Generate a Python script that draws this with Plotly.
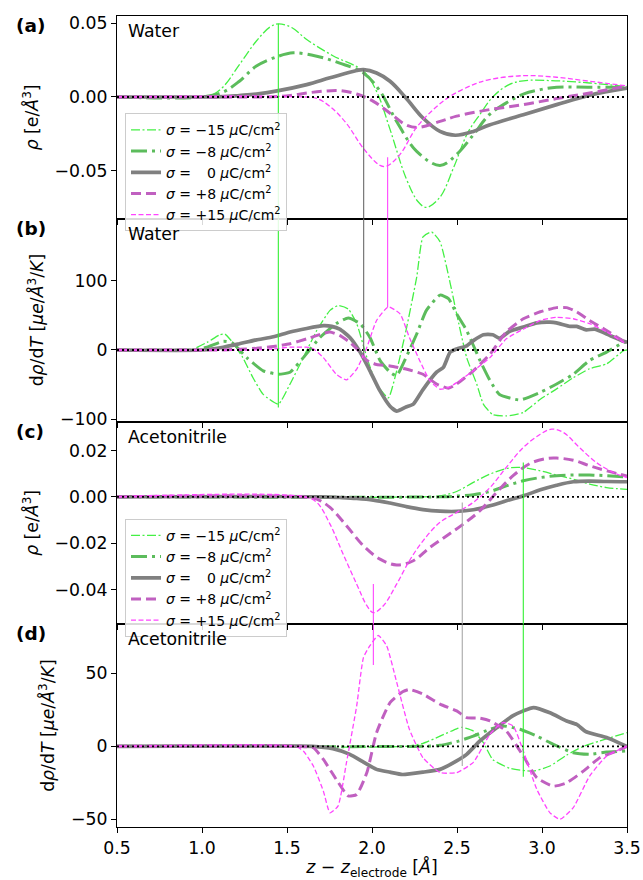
import plotly.graph_objects as go
from plotly.subplots import make_subplots

# ---------------- data ----------------
labels = ["<i>σ</i> = −15 <i>μ</i>C/cm<sup>2</sup>",
          "<i>σ</i> = −8 <i>μ</i>C/cm<sup>2</sup>",
          "<i>σ</i> = \u2002 0 <i>μ</i>C/cm<sup>2</sup>",
          "<i>σ</i> = +8 <i>μ</i>C/cm<sup>2</sup>",
          "<i>σ</i> = +15 <i>μ</i>C/cm<sup>2</sup>"]

# Panel (a): water, rho
a_m15_z = [0.5, 0.95, 1.05, 1.125, 1.22, 1.32, 1.40, 1.449, 1.53, 1.616, 1.77, 1.95, 2.03, 2.106, 2.20, 2.27, 2.32, 2.40, 2.48, 2.56, 2.64, 2.71, 2.80, 2.89, 3.08, 3.28, 3.5]
a_m15_v = [0, 0, 0.001, 0.007, 0.022, 0.038, 0.0475, 0.0497, 0.047, 0.039, 0.028, 0.0175, 0.003, -0.022, -0.055, -0.071, -0.075, -0.068, -0.048, -0.025, -0.011, 0.0, 0.008, 0.011, 0.011, 0.0095, 0.007]
a_m8_z = [0.5, 1.0, 1.125, 1.22, 1.32, 1.45, 1.537, 1.675, 1.81, 1.95, 2.047, 2.145, 2.263, 2.40, 2.498, 2.596, 2.69, 2.79, 2.89, 2.99, 3.086, 3.28, 3.5]
a_m8_v = [0, 0, 0.0034, 0.0107, 0.021, 0.0277, 0.030, 0.0277, 0.023, 0.0163, 0.004, -0.0166, -0.037, -0.0465, -0.039, -0.0257, -0.012, -0.004, 0.002, 0.005, 0.0066, 0.0066, 0.0066]
a_0_z = [0.5, 1.0, 1.125, 1.22, 1.32, 1.45, 1.616, 1.753, 1.91, 1.95, 2.027, 2.106, 2.20, 2.30, 2.40, 2.49, 2.596, 2.69, 2.89, 3.086, 3.28, 3.5]
a_0_v = [0, 0, 0.0002, 0.001, 0.002, 0.0043, 0.0084, 0.013, 0.018, 0.0186, 0.0163, 0.0107, -0.0007, -0.0143, -0.0234, -0.026, -0.0234, -0.019, -0.012, -0.0052, 0.0012, 0.006]
a_p8_z = [0.5, 1.3, 1.42, 1.52, 1.616, 1.714, 1.81, 1.91, 2.008, 2.106, 2.20, 2.27, 2.40, 2.498, 2.69, 2.89, 3.086, 3.28, 3.5]
a_p8_v = [0, 0, 0.0002, 0.001, 0.0027, 0.0039, 0.0043, 0.002, -0.003, -0.011, -0.019, -0.0207, -0.0166, -0.013, -0.0086, -0.0052, -0.0011, 0.0027, 0.0075]
a_p15_z = [0.5, 1.6, 1.675, 1.753, 1.85, 1.95, 2.047, 2.086, 2.165, 2.26, 2.36, 2.46, 2.596, 2.69, 2.89, 3.086, 3.28, 3.5]
a_p15_v = [0, 0, -0.001, -0.0064, -0.018, -0.035, -0.0465, -0.047, -0.039, -0.021, -0.0086, 0.0005, 0.0084, 0.0118, 0.0145, 0.0134, 0.0107, 0.0075]

# Panel (b): water, d rho / dT
b_m15_z = [0.5, 0.93, 1.03, 1.106, 1.135, 1.18, 1.24, 1.30, 1.36, 1.449, 1.518, 1.596, 1.675, 1.753, 1.80, 1.86, 1.91, 1.97, 2.027, 2.096, 2.145, 2.20, 2.263, 2.30, 2.35, 2.40, 2.46, 2.498, 2.557, 2.616, 2.655, 2.71, 2.79, 2.89, 2.99, 3.086, 3.184, 3.28, 3.38, 3.48, 3.5]
b_m15_v = [0, 0, 11, 22, 23, 11, -11, -40, -64, -78, -49, -11, 28, 57, 64, 59, 38, -11, -49, -69, -30, 28, 105, 163, 170, 156, 96, 52, -11, -49, -78, -93, -95, -90, -71, -56, -40, -27, -20, -1, 0]
b_m8_z = [0.5, 0.95, 1.03, 1.125, 1.18, 1.263, 1.36, 1.45, 1.518, 1.596, 1.694, 1.79, 1.86, 1.93, 1.988, 2.047, 2.106, 2.145, 2.20, 2.263, 2.32, 2.40, 2.45, 2.498, 2.557, 2.635, 2.694, 2.75, 2.87, 2.99, 3.086, 3.184, 3.28, 3.38, 3.48, 3.5]
b_m8_v = [0, 0, 4, 12.5, 10, -11, -30, -35, -32, -11, 18, 38, 46, 38, 18, -15, -32, -37, -11, 23, 57, 79, 74, 52, 28, -15, -44, -64, -72, -61, -49, -35, -15, -3, 11, 12]
b_0_z = [0.5, 1.0, 1.125, 1.22, 1.32, 1.42, 1.518, 1.616, 1.714, 1.763, 1.81, 1.87, 1.93, 1.988, 2.047, 2.106, 2.145, 2.20, 2.243, 2.30, 2.38, 2.42, 2.46, 2.498, 2.557, 2.596, 2.655, 2.71, 2.75, 2.81, 2.89, 2.97, 3.047, 3.086, 3.165, 3.204, 3.26, 3.31, 3.38, 3.48, 3.5]
b_0_v = [0, 0, 4, 9, 14.5, 19, 26, 31, 35, 34, 30, 18, -3, -30, -59, -81, -88, -82, -78, -57, -32, -25, -3, 1.5, 6, 13.5, 22, 22, 17, 27, 33, 39, 40, 39, 34, 34, 29, 30, 23, 12.5, 11]
b_p8_z = [0.5, 1.1, 1.22, 1.32, 1.42, 1.518, 1.616, 1.714, 1.753, 1.81, 1.87, 1.93, 1.97, 2.027, 2.106, 2.20, 2.30, 2.38, 2.45, 2.498, 2.596, 2.694, 2.79, 2.89, 2.99, 3.086, 3.145, 3.204, 3.28, 3.38, 3.48, 3.5]
b_p8_v = [0, 0, 1, 2.4, 5, 9, 16, 24, 26, 21, 11, -3, -15, -21, -23, -27.5, -35, -49, -55, -49, -30, -6, 26, 45, 55, 61, 61, 55, 42.5, 28, 12.5, 11]
b_p15_z = [0.5, 1.3, 1.42, 1.518, 1.616, 1.655, 1.714, 1.79, 1.85, 1.91, 1.97, 2.027, 2.096, 2.165, 2.22, 2.28, 2.34, 2.40, 2.45, 2.498, 2.596, 2.694, 2.79, 2.89, 2.99, 3.086, 3.184, 3.28, 3.38, 3.48, 3.5]
b_p15_v = [0, 0, 1.5, 4, 4, 1.5, -11, -35, -43, -27.5, 4, 42.5, 62, 52, 18, -15, -44, -56.5, -54, -47, -30, -11, 16, 30, 42.5, 47, 45, 38, 26, 11, 10]

# Panel (c): acetonitrile, rho
c_m15_z = [0.5, 2.3, 2.40, 2.498, 2.596, 2.694, 2.79, 2.87, 2.99, 3.086, 3.184, 3.28, 3.38, 3.5]
c_m15_v = [0, 0, 0.0004, 0.0023, 0.0062, 0.0098, 0.0122, 0.0127, 0.0112, 0.0094, 0.0076, 0.0055, 0.004, 0.0032]
c_m8_z = [0.5, 2.4, 2.498, 2.596, 2.694, 2.79, 2.89, 2.99, 3.086, 3.184, 3.28, 3.38, 3.5]
c_m8_v = [0, 0, 0.0003, 0.0009, 0.0023, 0.0047, 0.0069, 0.0083, 0.0091, 0.0094, 0.0094, 0.0091, 0.0086]
c_0_z = [0.5, 1.7, 1.81, 1.91, 2.008, 2.106, 2.20, 2.30, 2.40, 2.498, 2.596, 2.694, 2.79, 2.89, 2.99, 3.086, 3.184, 3.28, 3.38, 3.5]
c_0_v = [0, 0, -0.0003, -0.0007, -0.0014, -0.0027, -0.0042, -0.0055, -0.0062, -0.0063, -0.0056, -0.0039, -0.0017, 0.0004, 0.003, 0.005, 0.0065, 0.0068, 0.0066, 0.0065]
c_p8_z = [0.5, 1.58, 1.675, 1.753, 1.85, 1.95, 2.047, 2.145, 2.243, 2.34, 2.44, 2.537, 2.635, 2.733, 2.83, 2.93, 3.027, 3.086, 3.184, 3.28, 3.38, 3.5]
c_p8_v = [0, 0, -0.001, -0.0046, -0.0125, -0.0212, -0.0269, -0.0294, -0.0276, -0.0219, -0.0168, -0.0118, -0.006, 0.0019, 0.0091, 0.0144, 0.0165, 0.0167, 0.0158, 0.0134, 0.0112, 0.009]
c_p15_z = [0.5, 1.6, 1.675, 1.753, 1.83, 1.91, 1.97, 2.008, 2.067, 2.145, 2.22, 2.30, 2.40, 2.498, 2.596, 2.694, 2.79, 2.89, 2.99, 3.057, 3.125, 3.22, 3.32, 3.42, 3.5]
c_p15_v = [0, 0, -0.0024, -0.0118, -0.0247, -0.0377, -0.047, -0.050, -0.047, -0.0377, -0.0276, -0.019, -0.011, -0.0068, -0.0024, 0.004, 0.0127, 0.0213, 0.027, 0.0292, 0.0278, 0.0213, 0.0148, 0.0105, 0.0083]

# Panel (d): acetonitrile, d rho / dT
d_m15_z = [0.5, 2.2, 2.30, 2.40, 2.498, 2.53, 2.596, 2.655, 2.71, 2.81, 2.95, 3.047, 3.145, 3.243, 3.34, 3.5]
d_m15_v = [0, 0, 2, 7, 12, 13, 10.5, 2.5, -9, -15, -17, -13.5, -6, 0, 3.7, 9.4]
d_m8_z = [0.5, 2.3, 2.40, 2.498, 2.596, 2.694, 2.77, 2.87, 2.97, 3.067, 3.184, 3.28, 3.38, 3.5]
d_m8_v = [0, 0, 0.7, 3.2, 7, 11.7, 14, 11.7, 7, 1.4, -4.4, -5.5, -3.9, -3.2]
d_0_z = [0.5, 1.65, 1.77, 1.87, 1.95, 2.027, 2.106, 2.18, 2.30, 2.40, 2.498, 2.557, 2.635, 2.733, 2.83, 2.89, 2.95, 3.047, 3.145, 3.204, 3.26, 3.38, 3.5]
d_0_v = [0, 0, -1.6, -5.5, -10.8, -15.8, -17.7, -19.3, -17.7, -15.8, -10, -5.5, 3.7, 12.8, 21, 24.3, 26.6, 23, 17.4, 15, 10, 6, -0.2]
d_p8_z = [0.5, 1.58, 1.655, 1.714, 1.79, 1.86, 1.91, 1.97, 2.027, 2.106, 2.18, 2.22, 2.30, 2.40, 2.498, 2.557, 2.635, 2.694, 2.79, 2.89, 2.97, 3.067, 3.145, 3.243, 3.34, 3.44, 3.5]
d_p8_v = [0, 0, -1, -9, -22.7, -34, -33, -18, 9.4, 30, 37.4, 39, 35.8, 29, 24.3, 19.7, 19.3, 17.4, 10.5, -6.7, -21.6, -27.3, -25, -17, -7.8, -3.2, 0]
d_p15_z = [0.5, 1.55, 1.596, 1.655, 1.714, 1.753, 1.80, 1.85, 1.91, 1.95, 1.988, 2.037, 2.086, 2.145, 2.22, 2.30, 2.40, 2.498, 2.596, 2.694, 2.77, 2.83, 2.89, 2.97, 3.047, 3.106, 3.184, 3.28, 3.38, 3.5]
d_p15_v = [0, 0, -3.2, -13.5, -30.7, -45.6, -41, -11, 27.8, 61, 69, 76, 69, 44, 11.7, -7.8, -18, -18, -11, 8.3, 16.3, 14, -3.2, -29.6, -45.6, -50, -42, -20.4, -6.7, 0]

# marker lines linking features of two stacked panels
vl_x = [1.449, 1.951, 2.092, 2.008, 2.531, 2.890]
vl_upper = [0.0497, 0.0186, -0.041, -0.0376, -0.0025, 0.0148]
vl_lower = [-83, -8, 62, 55.7, -13.5, -20.8]
vl_pair = [1, 1, 1, 3, 3, 3]   # upper panel row (lower = row+1)
vl_color = ["#33f033", "#6a6a6a", "#ff44ff", "#ff44ff", "#a8a8a8", "#33f033"]

x_range = [0.5, 3.5]
y_ranges = [[-0.0827, 0.055], [-103, 189], [-0.055, 0.0325], [-55.3, 83.7]]
panel_tags = ["(a)", "(b)", "(c)", "(d)"]
panel_names = ["Water", "Water", "Acetonitrile", "Acetonitrile"]
y_titles = ["<i>ρ</i> [e/<i>Å</i><sup>3</sup>]",
            "d<i>ρ</i>/d<i>T</i> [<i>μe</i>/<i>Å</i><sup>3</sup>/<i>K</i>]",
            "<i>ρ</i> [e/<i>Å</i><sup>3</sup>]",
            "d<i>ρ</i>/d<i>T</i> [<i>μe</i>/<i>Å</i><sup>3</sup>/<i>K</i>]"]

# ---------------- style ----------------
colors = ["#44f044", "#5cbc5c", "#808080", "#c060c0", "#ff44ff"]
widths = [1.3, 3.0, 3.7, 3.0, 1.3]
dashes = ["9px,2.5px,2px,2.5px", "16px,5px,3px,5px", "solid", "10px,5px", "5px,2.5px"]
FONT = "DejaVu Sans"
FS = 17.3

panels = [
    [(a_m15_z, a_m15_v), (a_m8_z, a_m8_v), (a_0_z, a_0_v), (a_p8_z, a_p8_v), (a_p15_z, a_p15_v)],
    [(b_m15_z, b_m15_v), (b_m8_z, b_m8_v), (b_0_z, b_0_v), (b_p8_z, b_p8_v), (b_p15_z, b_p15_v)],
    [(c_m15_z, c_m15_v), (c_m8_z, c_m8_v), (c_0_z, c_0_v), (c_p8_z, c_p8_v), (c_p15_z, c_p15_v)],
    [(d_m15_z, d_m15_v), (d_m8_z, d_m8_v), (d_0_z, d_0_v), (d_p8_z, d_p8_v), (d_p15_z, d_p15_v)],
]

fig = make_subplots(rows=4, cols=1, shared_xaxes=True, vertical_spacing=0)

for r, series in enumerate(panels, start=1):
    smooth = 1.0 if r in (1, 3) else 0.5
    for k, (zz, vv) in enumerate(series):
        show = r in (1, 3)
        fig.add_trace(go.Scatter(
            x=zz, y=vv, mode="lines", name=labels[k],
            line=dict(color=colors[k], width=widths[k], dash=dashes[k],
                      shape="spline", smoothing=smooth),
            showlegend=show, legend=("legend" if r == 1 else "legend2"),
            hoverinfo="skip"), row=r, col=1)

shapes = []
for r in range(1, 5):
    yref = "y" if r == 1 else f"y{r}"
    xref = "x" if r == 1 else f"x{r}"
    shapes.append(dict(type="line", xref=f"{xref} domain", yref=yref, x0=0, x1=1, y0=0, y1=0,
                       line=dict(color="black", width=1.8, dash="2px,3px"), layer="above"))
for i in range(len(vl_x)):
    ru = vl_pair[i]
    rl = ru + 1
    yu = "y" if ru == 1 else f"y{ru}"
    xu = "x" if ru == 1 else f"x{ru}"
    shapes.append(dict(type="line", xref=xu, yref=yu, x0=vl_x[i], x1=vl_x[i],
                       y0=vl_upper[i], y1=y_ranges[ru - 1][0],
                       line=dict(color=vl_color[i], width=1.1), layer="above"))
    shapes.append(dict(type="line", xref=f"x{rl}", yref=f"y{rl}", x0=vl_x[i], x1=vl_x[i],
                       y0=y_ranges[rl - 1][1], y1=vl_lower[i],
                       line=dict(color=vl_color[i], width=1.1), layer="above"))

annotations = []
for r in range(1, 5):
    yd = "y domain" if r == 1 else f"y{r} domain"
    xd = "x domain" if r == 1 else f"x{r} domain"
    annotations.append(dict(text=f"<b>{panel_tags[r-1]}</b>", xref="paper", yref=yd,
                            x=-0.202, y=0.953, xanchor="left", yanchor="middle",
                            showarrow=False, font=dict(size=18.5, color="black", family=FONT)))
    annotations.append(dict(text=panel_names[r-1], xref=xd, yref=yd,
                            x=0.017, y=0.985, xanchor="left", yanchor="top",
                            showarrow=False, font=dict(size=FS, color="black", family=FONT)))

axis_common = dict(showline=True, linecolor="black", linewidth=1.1, mirror=True,
                   ticks="outside", ticklen=5, tickwidth=1.1, tickcolor="black",
                   showgrid=False, zeroline=False, automargin=False,
                   tickfont=dict(size=FS, color="black", family=FONT))

leg_common = dict(xanchor="left", yanchor="top",
                  bgcolor="rgba(255,255,255,0.85)", bordercolor="#cccccc", borderwidth=1,
                  font=dict(size=14, family=FONT, color="black"),
                  itemwidth=30, tracegroupgap=0)

fig.update_layout(
    width=643, height=880,
    margin=dict(l=117, r=16, t=16, b=53, autoexpand=False),
    paper_bgcolor="white", plot_bgcolor="white",
    font=dict(family=FONT, color="black"),
    shapes=shapes, annotations=annotations,
    legend=dict(x=0.0157, y=0.880, **leg_common),
    legend2=dict(x=0.0157, y=0.380, **leg_common),
)

for r in range(1, 5):
    fig.update_xaxes(range=x_range, dtick=0.5, tick0=0.5, tickformat=".1f", row=r, col=1, **axis_common)
fig.update_xaxes(title=dict(text="<i>z</i> − <i>z</i><sub>electrode</sub> [<i>Å</i>]",
                            font=dict(size=FS, family=FONT, color="black"), standoff=4),
                 row=4, col=1)

y_dticks = [0.05, 100, 0.02, 50]
y_fmts = [".2f", "d", ".2f", "d"]
for r in range(1, 5):
    fig.update_yaxes(range=y_ranges[r-1], dtick=y_dticks[r-1], tick0=0, tickformat=y_fmts[r-1],
                     title=dict(text=y_titles[r-1], font=dict(size=FS, family=FONT, color="black"),
                                standoff=11),
                     row=r, col=1, **axis_common)

# remove the browser's default 8px page margin so the figure fills the window exactly
fig.write_html("out.html",
               config={"displayModeBar": False},
               post_script="document.body.style.margin='0px';document.body.style.overflow='hidden';")
